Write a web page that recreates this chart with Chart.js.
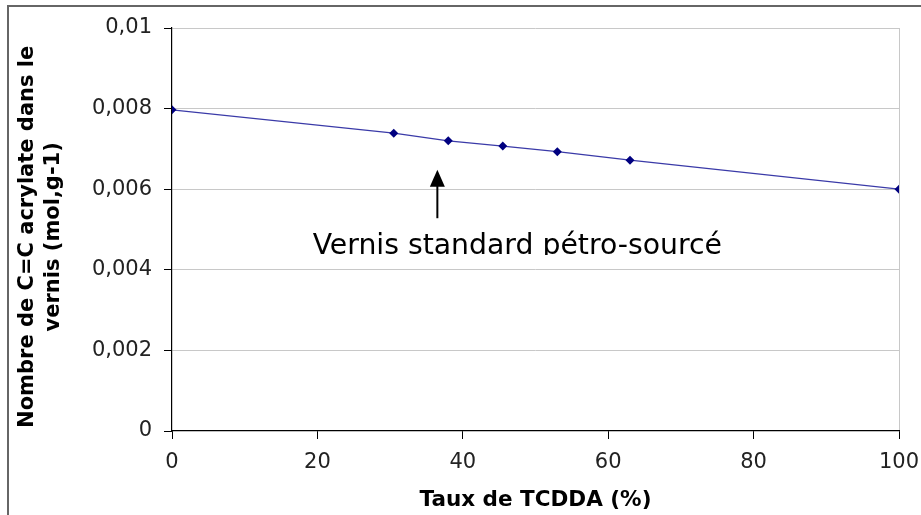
<!DOCTYPE html>
<html lang="fr">
<head>
<meta charset="utf-8">
<title>Taux de TCDDA</title>
<script src="https://cdn.jsdelivr.net/npm/chart.js@4/dist/chart.umd.min.js"></script>
<style>
  html, body { margin: 0; padding: 0; background: #fff; }
  canvas { display: block; }
</style>
</head>
<body>
<canvas id="chart" width="921" height="515"></canvas>
<script>
// Taux de TCDDA (%) -> nombre de C=C acrylate (mol.g-1)
const tcdda = [0, 30.5, 38, 45.5, 53, 63, 100];
const acrylate = [0.00797, 0.00739, 0.00720, 0.00707, 0.00693, 0.00672, 0.00600];

const xTicks = [0, 20, 40, 60, 80, 100];
const yTicks = [0, 0.002, 0.004, 0.006, 0.008, 0.01];
const yTickLabels = ['0', '0,002', '0,004', '0,006', '0,008', '0,01'];

const xTitle = 'Taux de TCDDA (%)';
// deux espaces finales : recentre le titre un peu plus bas, comme dans l'original
const yTitle = ['Nombre de C=C acrylate dans le  ', 'vernis (mol,g-1)  '];
const noteText = 'Vernis standard pétro-sourcé';

const TICK_FONT = { family: "'DejaVu Sans', sans-serif", size: 21 };
const X_TITLE_FONT = { family: "'DejaVu Sans', sans-serif", size: 21.5, weight: 'bold', lineHeight: 1.3 };
const Y_TITLE_FONT = { family: "'DejaVu Sans', sans-serif", size: 21, weight: 'bold', lineHeight: 1.25 };

// flèche + légende (coordonnées en unités de données)
const note = { x: 36.5, tipY: 0.00648, tailY: 0.00528, textX: 47.5, textY: 0.00439 };

const decorPlugin = {
  id: 'decor',
  afterDraw(chart) {
    const { ctx, scales: { x, y }, width, height, chartArea } = chart;
    ctx.save();
    // cadre extérieur (haut + gauche)
    ctx.strokeStyle = '#666';
    ctx.lineWidth = 2;
    ctx.beginPath();
    ctx.moveTo(8, height);
    ctx.lineTo(8, 6);
    ctx.lineTo(width, 6);
    ctx.stroke();

    // flèche
    const ax = x.getPixelForValue(note.x);
    const tip = y.getPixelForValue(note.tipY);
    const tail = y.getPixelForValue(note.tailY);
    ctx.strokeStyle = '#000';
    ctx.fillStyle = '#000';
    ctx.lineWidth = 2;
    ctx.beginPath();
    ctx.moveTo(ax, tail);
    ctx.lineTo(ax, tip + 14);
    ctx.stroke();
    ctx.beginPath();
    ctx.moveTo(ax, tip);
    ctx.lineTo(ax - 7.5, tip + 17);
    ctx.lineTo(ax + 7.5, tip + 17);
    ctx.closePath();
    ctx.fill();

    // texte (coupé juste sous la ligne de base, comme dans l'original)
    const tx = x.getPixelForValue(note.textX);
    const ty = y.getPixelForValue(note.textY);
    ctx.beginPath();
    ctx.rect(chartArea.left, chartArea.top, chartArea.right - chartArea.left, ty + 1 - chartArea.top);
    ctx.clip();
    ctx.font = "28.3px 'DejaVu Sans', sans-serif";
    ctx.textAlign = 'center';
    ctx.textBaseline = 'alphabetic';
    ctx.fillText(noteText, tx, ty);
    ctx.restore();
  },
};

new Chart(document.getElementById('chart'), {
  type: 'scatter',
  data: {
    datasets: [{
      data: tcdda.map((v, i) => ({ x: v, y: acrylate[i] })),
      showLine: true,
      borderColor: '#3a3aa8',
      borderWidth: 1.3,
      pointStyle: 'rectRot',
      pointRadius: 4.5,
      pointBackgroundColor: '#000080',
      pointBorderColor: '#000080',
      pointBorderWidth: 0,
    }],
  },
  options: {
    responsive: false,
    animation: false,
    layout: { padding: { left: 0, top: 28, right: 22, bottom: 0 } },
    plugins: { legend: { display: false }, tooltip: { enabled: false } },
    scales: {
      x: {
        type: 'linear', min: 0, max: 100,
        afterBuildTicks: (s) => { s.ticks = xTicks.map((v) => ({ value: v })); },
        afterFit: (s) => { s.height = 84; s.paddingLeft = 0; s.paddingRight = 0; },
        grid: {
          color: (c) => (c.tick && c.tick.value === 100 ? '#c8c8c8' : 'rgba(0,0,0,0)'),
          tickColor: '#000', tickLength: 8, lineWidth: 1,
        },
        border: { color: '#000', width: 1.2 },
        ticks: { font: TICK_FONT, color: '#222', padding: 11, maxRotation: 0 },
        title: { display: true, text: xTitle, font: X_TITLE_FONT, color: '#000', padding: { top: 0, bottom: 1 } },
      },
      y: {
        type: 'linear', min: 0, max: 0.01,
        afterBuildTicks: (s) => { s.ticks = yTicks.map((v) => ({ value: v })); },
        afterFit: (s) => { s.width = 172; s.paddingTop = 0; s.paddingBottom = 0; },
        grid: {
          color: (c) => (c.tick && c.tick.value === 0 ? 'rgba(0,0,0,0)' : '#c8c8c8'),
          tickColor: '#000', tickLength: 8, lineWidth: 1,
        },
        border: { color: '#000', width: 1.2 },
        ticks: { font: TICK_FONT, color: '#222', padding: 12, callback: (v, i) => yTickLabels[i] },
        title: { display: true, text: yTitle, font: Y_TITLE_FONT, color: '#000', padding: { top: 14, bottom: 0 } },
      },
    },
  },
  plugins: [decorPlugin],
});
</script>
</body>
</html>
